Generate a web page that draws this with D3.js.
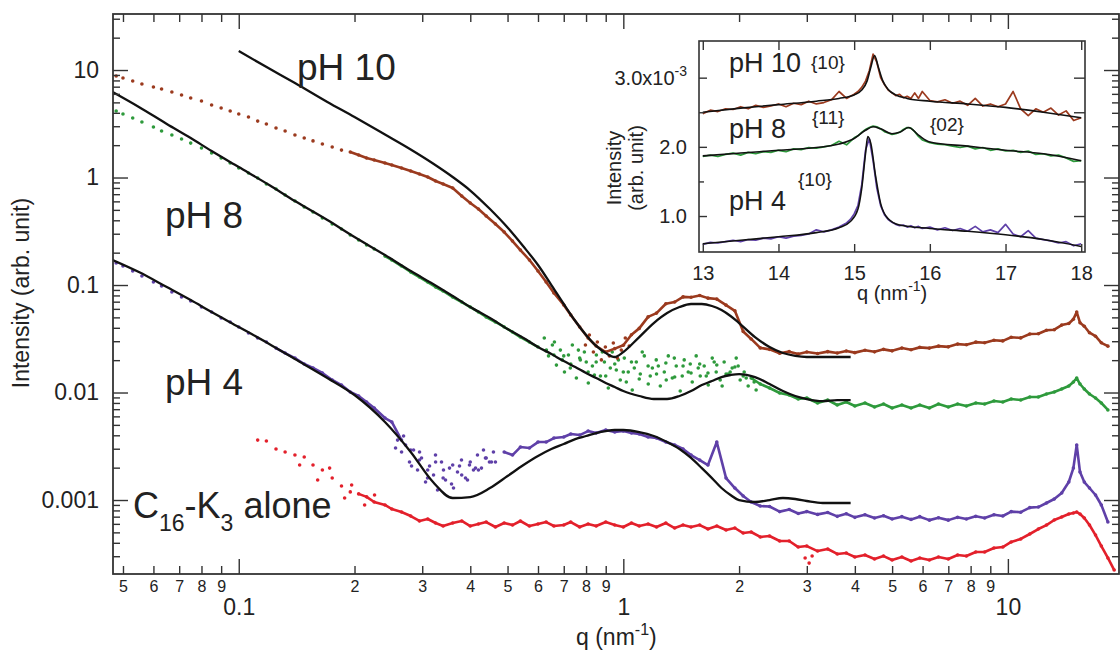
<!DOCTYPE html>
<html><head><meta charset="utf-8">
<script src="https://cdnjs.cloudflare.com/ajax/libs/d3/7.8.5/d3.min.js"></script>
<style>
body{margin:0;background:#fff}
svg{display:block}
text{font-family:"Liberation Sans",Arial,Helvetica,sans-serif;fill:#222}
</style>
</head><body>
<svg id="chart" width="1120" height="654"></svg>
<script>
// ---------------- DATA (main plot) ----------------
const qGrid = [0.048,0.05,0.053,0.056,0.06,0.063,0.067,0.071,0.075,0.08,
0.085,0.09,0.095,0.1,0.106,0.112,0.118,0.125,0.132,0.14,
0.148,0.156,0.165,0.175,0.185,0.195,0.205,0.215,0.225,0.24,
0.25,0.265,0.28,0.295,0.31,0.325,0.34,0.36,0.38,0.4,
0.42,0.44,0.465,0.49,0.515,0.54,0.57,0.6,0.63,0.66,
0.7,0.73,0.77,0.81,0.85,0.9,0.95,1.0,1.05,1.1,
1.16,1.22,1.29,1.36,1.43,1.5,1.58,1.66,1.75,1.85,
1.95,2.05,2.15,2.27,2.4,2.55,2.7,2.85,3.0,3.2,
3.4,3.6,3.8,4.0,4.25,4.5,4.75,5.0,5.3,5.6,
5.9,6.25,6.6,7.0,7.4,7.8,8.25,8.7,9.2,9.7,
10.2,10.8,11.4,12.0,12.6,13.2,13.8,14.4,14.8,15.1,
15.4,15.8,16.3,16.9,17.5,18.2,18.9];

const pH10Data = [8.80,8.42,7.90,7.41,6.95,6.66,6.24,5.85,5.49,5.15,
4.73,4.43,4.16,3.90,3.65,3.35,3.15,2.89,2.71,2.49,
2.33,2.19,2.05,1.92,1.80,1.73,1.62,1.52,1.455,1.364,
1.307,1.226,1.149,1.078,1.011,0.928,0.870,0.799,0.673,0.579,
0.509,0.438,0.369,0.311,0.2566,0.2116,0.1709,0.1350,0.1066,0.0842,
0.0652,0.0526,0.0407,0.0321,0.0271,0.0238,0.0256,0.0275,0.0345,0.0395,
0.0505,0.0548,0.0670,0.0695,0.0775,0.0770,0.0800,0.0755,0.0740,0.0650,
0.0575,0.0370,0.0315,0.0260,0.0252,0.0232,0.0240,0.0228,0.0238,0.0231,
0.0240,0.0233,0.0243,0.0235,0.0247,0.0239,0.0252,0.0244,0.0259,0.0250,
0.0263,0.0259,0.0270,0.0266,0.0282,0.0278,0.0294,0.0290,0.0306,0.0302,
0.0327,0.0322,0.0350,0.0352,0.0380,0.0384,0.0424,0.0438,0.0480,0.0560,
0.0446,0.0414,0.0360,0.0334,0.0290,0.0270,null];

const pH8Data = [4.16,3.90,3.58,3.28,2.95,2.71,2.49,2.28,2.09,1.88,
1.69,1.52,1.364,1.226,1.101,0.989,0.870,0.782,0.687,0.604,
0.532,0.478,0.420,0.369,0.332,0.2919,0.2622,0.2355,0.2162,0.1861,
0.1709,0.1502,0.1321,0.1187,0.1066,0.0958,0.0880,0.0773,0.0695,0.0624,
0.0561,0.0504,0.0453,0.0407,0.0365,0.0328,0.0295,0.0265,0.0243,0.0223,
0.0219,0.01841,0.0209,0.01551,0.01922,0.01424,0.01841,0.01551,0.01922,0.01335,
0.01764,0.01486,0.01881,0.01393,0.01764,0.01519,0.01841,0.01519,0.01803,0.01486,
0.01727,0.01424,0.01364,0.01200,0.01101,0.00989,0.00948,0.00870,0.00889,0.00799,
0.00851,0.00765,0.00816,0.00749,0.00799,0.00733,0.00782,0.00717,0.00765,0.00717,
0.00765,0.00717,0.00782,0.00733,0.00782,0.00749,0.00799,0.00782,0.00833,0.00816,
0.00870,0.00851,0.00908,0.00908,0.00968,0.01011,0.01078,0.01149,0.01252,0.01364,
0.01200,0.01078,0.00968,0.00889,0.00799,0.00688,null];

const pH4Data = [0.1602,0.1502,0.1350,0.1213,0.1066,0.0979,0.0861,0.0773,0.0710,0.0624,
0.0561,0.0493,0.0453,0.0407,0.0358,0.0321,0.0295,0.0259,0.0233,0.0209,
0.01841,0.01690,0.01519,0.01307,0.01174,0.01011,0.00928,0.00816,0.00717,0.00579,
0.00532,0.00361,0.00292,0.002355,0.00190,0.002257,0.00160,0.002116,0.001708,0.002257,
0.00190,0.00246,0.002257,0.00280,0.00262,0.00311,0.00305,0.00346,0.00346,0.00377,
0.00386,0.00411,0.00402,0.00438,0.00420,0.00448,0.00429,0.00438,0.00420,0.00411,
0.00386,0.00377,0.00346,0.00325,0.00298,0.00262,0.002355,0.002116,0.00346,0.00160,
0.001293,0.001089,0.000958,0.000879,0.000870,0.000780,0.000815,0.000750,0.000780,0.000735,
0.000765,0.000705,0.000745,0.000690,0.000730,0.000680,0.000715,0.000665,0.000700,0.000660,
0.000700,0.000650,0.000685,0.000650,0.000690,0.000665,0.000705,0.000680,0.000730,0.000710,
0.000780,0.000770,0.000850,0.000860,0.000938,0.001022,0.001162,0.001470,0.00198,0.00325,
0.00182,0.001470,0.001293,0.001113,0.000899,0.000624,null];

const c16k3Data = [null,null,null,null,null,null,null,null,null,null,
null,null,null,null,null,0.00361,0.00354,0.00298,0.00280,0.00262,
0.00251,0.00212,0.00190,0.00160,0.00135,0.00119,0.00114,0.00107,0.000958,0.000899,
0.000825,0.000773,0.000710,0.000638,0.000666,0.000611,0.000573,0.000611,0.000638,0.000573,
0.000598,0.000624,0.000561,0.000611,0.000585,0.000638,0.000573,0.000598,0.000624,0.000573,
0.000585,0.000624,0.000561,0.000598,0.000573,0.000624,0.000585,0.000561,0.000611,0.000573,
0.000598,0.000561,0.000611,0.000549,0.000585,0.000561,0.000585,0.000537,0.000573,0.000526,
0.000549,0.000493,0.000504,0.000453,0.000463,0.000416,0.000416,0.000365,0.000373,0.000335,
0.000350,0.000315,0.000321,0.000295,0.000308,0.000283,0.000301,0.000277,0.000295,0.000271,
0.000289,0.000277,0.000295,0.000283,0.000308,0.000301,0.000328,0.000328,0.000358,0.000365,
0.000407,0.000434,0.000483,0.000537,0.000585,0.000652,0.000695,0.000741,0.000757,0.000773,
0.000741,0.000680,0.000585,0.000472,0.000373,0.000289,0.000223];

// extra scattered points read from the noisy clouds
const pH10CloudQ = [0.797,0.816,0.836,0.856,0.877,0.898,0.920,0.942,0.965,0.988,1.012,1.036];
const pH10CloudI = [0.0277,0.0343,0.0238,0.0295,0.0201,0.0265,0.0219,0.0289,0.0209,0.0248,0.0321,0.0271];
const pH8CloudQ = [0.623,0.639,0.654,0.670,0.686,0.703,0.720,0.737,0.755,0.773,
0.792,0.811,0.831,0.851,0.872,0.893,0.914,0.936,0.959,0.982,
1.006,1.030,1.055,1.081,1.107,1.134,1.161,1.190,1.218,1.248,
1.278,1.309,1.341,1.373,1.406,1.440,1.475,1.511,1.547,1.585,
1.623,1.663,1.703,1.744,1.786,1.829,1.874,1.919,1.966,2.013,
2.062,2.112,2.163,2.215,
0.631,0.662,0.694,0.728,0.764,0.801,0.841,0.882,0.925,0.971,
1.018,1.068,1.120,1.175,1.233,1.293,1.357,1.423,1.493,1.566,
1.643,1.723,1.807,1.896,1.989,2.087,2.189];
const pH8CloudI = [0.0321,0.0219,0.0277,0.0180,0.0248,0.01551,0.0223,0.0277,0.01364,0.0201,
0.0238,0.01226,0.01764,0.0223,0.01424,0.01922,0.01101,0.0238,0.01620,0.01307,
0.0209,0.01551,0.01055,0.01922,0.01486,0.0219,0.01200,0.01690,0.0201,0.01149,
0.01551,0.0219,0.01364,0.01764,0.01033,0.0201,0.01551,0.01252,0.0219,0.01424,
0.01764,0.01174,0.0209,0.01551,0.01307,0.01922,0.01486,0.01690,0.0209,0.01307,
0.01551,0.01149,0.01364,0.01055,
0.0248,0.0295,0.0201,0.01690,0.0248,0.01922,0.01455,0.0238,0.01690,0.0201,
0.01252,0.01690,0.0238,0.01424,0.01764,0.01307,0.0209,0.01424,0.01841,0.01690,
0.01424,0.01922,0.01149,0.01551,0.01764,0.01364,0.01252];
const pH4CloudQ = [0.2588,0.2651,0.2715,0.2780,0.2848,0.2917,0.2987,0.3060,0.3134,0.3210,
0.3288,0.3367,0.3449,0.3532,0.3618,0.3705,0.3795,0.3887,0.3981,0.4077,
0.4176,0.4277,0.4380,0.4486,0.4595,
0.2557,0.2683,0.2814,0.2952,0.3097,0.3248,0.3407,0.3575,0.3750,0.3934,
0.4127,0.4329,0.4541];
const pH4CloudI = [0.00361,0.00280,0.00325,0.002257,0.00292,0.00190,0.00246,0.001470,0.00207,0.001708,
0.001239,0.002257,0.001535,0.00198,0.001293,0.00182,0.002355,0.00160,0.002116,0.00190,
0.00262,0.00198,0.00246,0.002257,0.00280,
0.00305,0.00394,0.00207,0.00280,0.00160,0.00262,0.00190,0.001409,0.00207,0.001535,
0.00198,0.00292,0.002257];
const c16CloudQ = [0.1440,0.1604,0.1723,0.1885,0.1966,0.2125,0.2255,2.970,3.042,3.097];
const c16CloudI = [0.002116,0.001535,0.00198,0.001044,0.001379,0.000899,0.001113,0.000289,0.000259,0.000301];

const fitQ = [0.047,0.055,0.065,0.075,0.085,0.1,0.12,0.14,0.17,0.2,
0.24,0.28,0.32,0.36,0.4,0.45,0.5,0.55,0.6,0.65,
0.7,0.75,0.8,0.85,0.9,0.95,1.0,1.1,1.2,1.3,
1.4,1.5,1.6,1.7,1.8,1.9,2.0,2.2,2.4,2.6,
2.8,3.0,3.3,3.6,3.9];

const fitPH10 = [null,null,null,null,null,15.0,10.33,7.57,5.04,3.65,
2.51,1.822,1.350,1.011,0.757,0.509,0.3426,0.2281,0.1535,0.1000,
0.0666,0.0463,0.0343,0.0271,0.0233,0.0214,0.0238,0.0328,0.0443,0.0549,
0.0624,0.0666,0.0666,0.0638,0.0585,0.0515,0.0443,0.0328,0.0265,0.0233,
0.0219,0.0214,0.0214,0.0214,0.0214];

const fitPH8 = [6.24,4.53,3.15,2.33,1.764,1.252,0.852,0.604,0.402,0.2796,
0.1901,0.1350,0.1022,0.0790,0.0624,0.0493,0.0390,0.0321,0.0265,0.0228,
0.0196,0.01727,0.01519,0.01364,0.01226,0.01125,0.01033,0.00928,0.00870,0.00870,
0.00928,0.01033,0.01174,0.01279,0.01393,0.01455,0.01486,0.01393,0.01200,0.01033,
0.00928,0.00870,0.00833,0.00851,0.00851];

const fitPH4 = [0.1709,0.1321,0.0958,0.0725,0.0561,0.0407,0.0283,0.0205,0.01364,0.00948,
0.00532,0.00280,0.001470,0.001044,0.001066,0.001293,0.001672,0.002116,0.002566,0.00298,
0.00332,0.00369,0.00394,0.00420,0.00438,0.00448,0.00448,0.00429,0.00394,0.00346,
0.00298,0.00246,0.00198,0.00160,0.001293,0.001113,0.001000,0.000958,0.001000,0.001044,
0.001022,0.000979,0.000938,0.000938,0.000938];

const xMajorTicks = [0.1, 1, 10];
const xMajorLabels = ["0.1", "1", "10"];
const yMajorTicks = [0.001, 0.01, 0.1, 1, 10];
const yMajorLabels = ["0.001", "0.01", "0.1", "1", "10"];

// ---------------- DATA (inset, intensity in units of 1e-3) ----------------
const insetQ = [13.0,13.1,13.2,13.3,13.4,13.5,13.6,13.7,13.8,13.9,
14.0,14.1,14.2,14.3,14.4,14.5,14.6,14.7,14.8,14.9,
14.95,15.0,15.05,15.1,15.15,15.2,15.25,15.3,15.35,15.4,
15.45,15.5,15.55,15.6,15.65,15.7,15.75,15.8,15.85,15.9,
16.0,16.1,16.2,16.3,16.4,16.5,16.6,16.7,16.8,16.9,
17.0,17.1,17.2,17.3,17.4,17.5,17.6,17.7,17.8,17.9,
18.0];
const insetPH10 = [2.48,2.53,2.51,2.55,2.54,2.58,2.55,2.60,2.57,2.59,
2.62,2.58,2.63,2.61,2.66,2.62,2.64,2.68,2.80,2.70,
2.73,2.76,2.80,2.86,2.95,3.10,3.34,3.22,3.00,2.90,
2.82,2.78,2.74,2.76,2.71,2.73,2.70,2.78,2.70,2.80,
2.67,2.65,2.68,2.63,2.66,2.60,2.70,2.59,2.62,2.58,
2.62,2.80,2.55,2.45,2.55,2.50,2.56,2.46,2.52,2.38,
2.42];
const insetPH8 = [1.86,1.88,1.86,1.89,1.91,1.88,1.92,1.90,1.93,1.92,
1.95,1.93,1.97,1.96,1.99,1.98,2.00,2.02,2.08,2.03,
2.08,2.13,2.16,2.21,2.25,2.28,2.30,2.29,2.26,2.22,
2.20,2.18,2.19,2.21,2.25,2.28,2.27,2.22,2.15,2.10,
2.06,2.04,2.03,2.01,1.99,2.01,1.97,1.99,1.95,1.97,
1.94,1.95,1.92,1.94,1.89,1.90,1.87,1.88,1.84,1.79,
1.80];
const insetPH4 = [0.59,0.62,0.61,0.63,0.65,0.63,0.66,0.65,0.68,0.67,
0.70,0.68,0.71,0.72,0.74,0.80,0.77,0.80,0.84,0.90,
0.95,1.03,1.15,1.45,1.95,2.12,1.80,1.40,1.15,1.02,
0.95,0.91,0.88,0.86,0.87,0.84,0.86,0.83,0.85,0.82,
0.84,0.80,0.83,0.79,0.82,0.78,0.85,0.77,0.80,0.76,
0.88,0.74,0.70,0.79,0.68,0.66,0.64,0.61,0.63,0.57,
0.60];
const insetFitQ10 = [13,13.5,14,14.5,14.8,15.0,15.1,15.17,15.22,15.27,15.32,15.38,15.45,15.55,15.7,16.0,16.5,17.0,17.5,18.0];
const insetFit10  = [2.50,2.56,2.61,2.66,2.70,2.75,2.82,2.95,3.15,3.32,3.15,2.95,2.83,2.75,2.70,2.66,2.62,2.57,2.50,2.42];
const insetFitQ8 = [13,13.5,14,14.5,14.8,15.0,15.15,15.25,15.35,15.5,15.6,15.72,15.85,16.0,16.5,17.0,17.5,18.0];
const insetFit8  = [1.87,1.91,1.95,1.99,2.04,2.12,2.24,2.29,2.26,2.19,2.21,2.28,2.17,2.07,2.01,1.95,1.90,1.80];
const insetFitQ4 = [13,13.5,14,14.5,14.8,14.95,15.05,15.1,15.15,15.18,15.22,15.28,15.35,15.45,15.6,16.0,16.5,17.0,17.5,18.0];
const insetFit4  = [0.60,0.65,0.70,0.76,0.83,0.92,1.10,1.40,1.90,2.15,2.05,1.60,1.18,0.96,0.87,0.82,0.78,0.73,0.66,0.56];
const insetXTicks = [13, 14, 15, 16, 17, 18];
const insetYTicks = [1, 2, 3];
const insetYLabels = ["1.0", "2.0", "3.0x10"];
const insetYMinor = [1.5, 2.5];

// ---------------- DRAWING ----------------
const svg = d3.select('#chart');
svg.append('rect').attr('width', 1120).attr('height', 654).attr('fill', '#fff');

const P = {l: 113, r: 1119, t: 14, b: 574};
const x = d3.scaleLog().domain([0.0471, 19.45]).range([P.l, P.r]);
const y = d3.scaleLog().domain([2.05e-4, 33.2]).range([P.b, P.t]);

svg.append('defs').append('clipPath').attr('id', 'clipMain')
  .append('rect').attr('x', P.l).attr('y', P.t).attr('width', P.r - P.l).attr('height', P.b - P.t);

const COL = {pH10: '#9b3a1e', pH8: '#2e9a3c', pH4: '#5f40a8', c16: '#e3202b'};

const dataG = svg.append('g').attr('clip-path', 'url(#clipMain)');
const series = [
  {vals: c16k3Data, color: COL.c16, lineFrom: 0.2, gap: null, cq: c16CloudQ, ci: c16CloudI},
  {vals: pH4Data, color: COL.pH4, lineFrom: 0.12, gap: [0.27, 0.47], cq: pH4CloudQ, ci: pH4CloudI},
  {vals: pH8Data, color: COL.pH8, lineFrom: 0.24, gap: [0.62, 2.1], cq: pH8CloudQ, ci: pH8CloudI},
  {vals: pH10Data, color: COL.pH10, lineFrom: 0.19, gap: null, cq: pH10CloudQ, ci: pH10CloudI}
];
series.forEach(s => {
  const pts = qGrid.map((q, i) => ({q, v: s.vals[i]})).filter(d => d.v != null);
  const line = d3.line()
    .defined(d => !(s.gap && d.q > s.gap[0] && d.q < s.gap[1]))
    .x(d => x(d.q)).y(d => y(d.v));
  dataG.append('path').datum(pts.filter(d => d.q >= s.lineFrom))
    .attr('d', line).attr('fill', 'none').attr('stroke', s.color)
    .attr('stroke-width', 2.6).attr('stroke-linejoin', 'round');
  const cloud = s.cq.map((q, i) => ({q, v: s.ci[i]}));
  dataG.append('g').selectAll('circle').data(pts.concat(cloud)).join('circle')
    .attr('cx', d => x(d.q)).attr('cy', d => y(d.v)).attr('r', 1.8).attr('fill', s.color);
});

const fitLine = d3.line().defined(d => d.v != null).x(d => x(d.q)).y(d => y(d.v)).curve(d3.curveMonotoneX);
[fitPH4, fitPH8, fitPH10].forEach(f => {
  dataG.append('path').datum(fitQ.map((q, i) => ({q, v: f[i]})))
    .attr('d', fitLine).attr('fill', 'none').attr('stroke', '#111').attr('stroke-width', 2.3);
});

// axes
const isDecade = t => Math.abs(Math.log10(t) - Math.round(Math.log10(t))) < 1e-6;
const lead = t => Math.round(t / Math.pow(10, Math.floor(Math.log10(t) + 1e-9)));
const xMinor = x.ticks().filter(t => !isDecade(t));
const yMinor = y.ticks().filter(t => !isDecade(t));

function styleAxis(g, fs) {
  g.select('.domain').remove();
  g.attr('color', '#333').attr('font-family', '"Liberation Sans",Arial,sans-serif').attr('font-size', fs);
  g.selectAll('line').attr('stroke-width', 1.4);
  g.selectAll('text').attr('fill', '#222');
}
svg.append('g').attr('transform', `translate(0,${P.b})`)
  .call(d3.axisBottom(x).tickValues(xMinor).tickSize(-8).tickSizeOuter(0).tickPadding(7).tickFormat(lead))
  .call(g => styleAxis(g, 16));
svg.append('g').attr('transform', `translate(0,${P.b})`)
  .call(d3.axisBottom(x).tickValues(xMajorTicks).tickSize(-15).tickSizeOuter(0).tickPadding(25).tickFormat((d, i) => xMajorLabels[i]))
  .call(g => styleAxis(g, 23));
svg.append('g').attr('transform', `translate(0,${P.t})`)
  .call(d3.axisTop(x).tickValues(xMinor).tickSize(-8).tickSizeOuter(0).tickFormat(''))
  .call(g => styleAxis(g, 10));
svg.append('g').attr('transform', `translate(0,${P.t})`)
  .call(d3.axisTop(x).tickValues(xMajorTicks).tickSize(-15).tickSizeOuter(0).tickFormat(''))
  .call(g => styleAxis(g, 10));
svg.append('g').attr('transform', `translate(${P.l},0)`)
  .call(d3.axisLeft(y).tickValues(yMinor).tickSize(-7).tickSizeOuter(0).tickFormat(''))
  .call(g => styleAxis(g, 10));
svg.append('g').attr('transform', `translate(${P.l},0)`)
  .call(d3.axisLeft(y).tickValues(yMajorTicks).tickSize(-15).tickSizeOuter(0).tickPadding(14).tickFormat((d, i) => yMajorLabels[i]))
  .call(g => styleAxis(g, 23));
svg.append('g').attr('transform', `translate(${P.r},0)`)
  .call(d3.axisRight(y).tickValues(yMinor).tickSize(-7).tickSizeOuter(0).tickFormat(''))
  .call(g => styleAxis(g, 10));
svg.append('g').attr('transform', `translate(${P.r},0)`)
  .call(d3.axisRight(y).tickValues(yMajorTicks).tickSize(-15).tickSizeOuter(0).tickFormat(''))
  .call(g => styleAxis(g, 10));

svg.append('rect').attr('x', P.l).attr('y', P.t).attr('width', P.r - P.l).attr('height', P.b - P.t)
  .attr('fill', 'none').attr('stroke', '#333').attr('stroke-width', 1.8);

// axis titles
const xt = svg.append('text').attr('x', 576).attr('y', 645).attr('font-size', 23);
xt.append('tspan').text('q (nm');
xt.append('tspan').attr('dy', -10).attr('font-size', 16).text('-1');
xt.append('tspan').attr('dy', 10).text(')');
svg.append('text').attr('transform', 'translate(29,293) rotate(-90)').attr('text-anchor', 'middle')
  .attr('font-size', 23).text('Intensity (arb. unit)');

// series labels
svg.append('text').attr('x', 297).attr('y', 80).attr('font-size', 37).text('pH 10');
svg.append('text').attr('x', 165).attr('y', 228).attr('font-size', 37).text('pH 8');
svg.append('text').attr('x', 165).attr('y', 395).attr('font-size', 37).text('pH 4');
const cl = svg.append('text').attr('x', 133).attr('y', 518).attr('font-size', 36);
cl.append('tspan').text('C');
cl.append('tspan').attr('dy', 13).attr('font-size', 23).text('16');
cl.append('tspan').attr('dy', -13).text('-K');
cl.append('tspan').attr('dy', 13).attr('font-size', 23).text('3');
cl.append('tspan').attr('dy', -13).text(' alone');

// ---------------- INSET ----------------
const I = {l: 699, r: 1085, t: 41, b: 252};
const ix = d3.scaleLinear().domain([12.95, 18.05]).range([I.l, I.r]);
const iy = d3.scaleLinear().domain([0.48, 3.53]).range([I.b, I.t]);
svg.append('rect').attr('x', I.l).attr('y', I.t).attr('width', I.r - I.l).attr('height', I.b - I.t).attr('fill', '#fff');

svg.append('defs').append('clipPath').attr('id', 'clipInset')
  .append('rect').attr('x', I.l).attr('y', I.t).attr('width', I.r - I.l).attr('height', I.b - I.t);
const ig = svg.append('g').attr('clip-path', 'url(#clipInset)');
const iLine = d3.line().x(d => ix(d.q)).y(d => iy(d.v));
const iFit = d3.line().x(d => ix(d.q)).y(d => iy(d.v)).curve(d3.curveMonotoneX);
[[insetPH10, COL.pH10], [insetPH8, COL.pH8], [insetPH4, COL.pH4]].forEach(([vals, c]) => {
  ig.append('path').datum(insetQ.map((q, i) => ({q, v: vals[i]})))
    .attr('d', iLine).attr('fill', 'none').attr('stroke', c).attr('stroke-width', 1.7).attr('stroke-linejoin', 'round');
});
[[insetFitQ10, insetFit10], [insetFitQ8, insetFit8], [insetFitQ4, insetFit4]].forEach(([qs, vs]) => {
  ig.append('path').datum(qs.map((q, i) => ({q, v: vs[i]})))
    .attr('d', iFit).attr('fill', 'none').attr('stroke', '#111').attr('stroke-width', 1.6);
});

svg.append('g').attr('transform', `translate(0,${I.b})`)
  .call(d3.axisBottom(ix).tickValues(insetXTicks).tickSize(-8).tickSizeOuter(0).tickPadding(14).tickFormat(d3.format('d')))
  .call(g => styleAxis(g, 20));
svg.append('g').attr('transform', `translate(0,${I.t})`)
  .call(d3.axisTop(ix).tickValues(insetXTicks).tickSize(-9).tickSizeOuter(0).tickFormat(''))
  .call(g => styleAxis(g, 10));
svg.append('g').attr('transform', `translate(${I.l},0)`)
  .call(d3.axisLeft(iy).tickValues(insetYTicks).tickSize(-8).tickSizeOuter(0).tickPadding(12).tickFormat((d, i) => insetYLabels[i]))
  .call(g => styleAxis(g, 20))
  .call(g => g.selectAll('.tick text').filter(d => d === 3).append('tspan').attr('dy', -9).attr('font-size', 14).text('-3'));
svg.append('g').attr('transform', `translate(${I.l},0)`)
  .call(d3.axisLeft(iy).tickValues(insetYMinor).tickSize(-5).tickSizeOuter(0).tickFormat(''))
  .call(g => styleAxis(g, 10));
svg.append('g').attr('transform', `translate(${I.r},0)`)
  .call(d3.axisRight(iy).tickValues(insetYTicks.concat(insetYMinor)).tickSize(-11).tickSizeOuter(0).tickFormat(''))
  .call(g => styleAxis(g, 10));
svg.append('rect').attr('x', I.l).attr('y', I.t).attr('width', I.r - I.l).attr('height', I.b - I.t)
  .attr('fill', 'none').attr('stroke', '#333').attr('stroke-width', 1.6);

const ixt = svg.append('text').attr('x', 857).attr('y', 300).attr('font-size', 20);
ixt.append('tspan').text('q (nm');
ixt.append('tspan').attr('dy', -9).attr('font-size', 14).text('-1');
ixt.append('tspan').attr('dy', 9).text(')');
svg.append('text').attr('transform', 'translate(621,168) rotate(-90)').attr('text-anchor', 'middle').attr('font-size', 20).text('Intensity');
svg.append('text').attr('transform', 'translate(643,168) rotate(-90)').attr('text-anchor', 'middle').attr('font-size', 20).text('(arb. unit)');

svg.append('text').attr('x', 729).attr('y', 72).attr('font-size', 27).text('pH 10');
svg.append('text').attr('x', 729).attr('y', 138).attr('font-size', 27).text('pH 8');
svg.append('text').attr('x', 729).attr('y', 210).attr('font-size', 27).text('pH 4');
svg.append('text').attr('x', 811).attr('y', 69).attr('font-size', 19).text('{10}');
svg.append('text').attr('x', 812).attr('y', 124).attr('font-size', 19).text('{11}');
svg.append('text').attr('x', 930).attr('y', 131).attr('font-size', 19).text('{02}');
svg.append('text').attr('x', 798).attr('y', 186).attr('font-size', 19).text('{10}');
</script>
</body></html>
